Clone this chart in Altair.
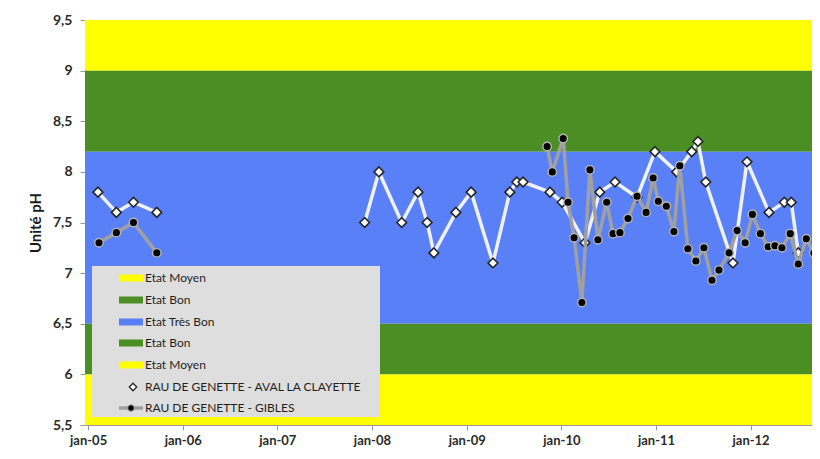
import altair as alt
import pandas as pd

# ---------------- data ----------------
band_lo = [9.0, 8.2, 6.5, 6.0, 5.5]
band_hi = [9.5, 9.0, 8.2, 6.5, 6.0]
band_color = ["#FFFF00", "#4A8E24", "#5A80F8", "#4A8E24", "#FFFF00"]

aval_dates = ["2005-02-08", "2005-04-20", "2005-06-25", "2005-09-23",
              "2007-12-04", "2008-01-28", "2008-04-25", "2008-06-27", "2008-08-01",
              "2008-08-27", "2008-11-20", "2009-01-18", "2009-04-12", "2009-06-16",
              "2009-07-13", "2009-08-06", "2009-11-18", "2010-01-04", "2010-04-02",
              "2010-05-29", "2010-07-27", "2010-10-20", "2010-12-28", "2011-03-22",
              "2011-05-19", "2011-06-12", "2011-07-12", "2011-10-25", "2011-12-18",
              "2012-03-12", "2012-05-10", "2012-06-06", "2012-07-03"]
aval_ph = [7.8, 7.6, 7.7, 7.6,
           7.5, 8.0, 7.5, 7.8, 7.5,
           7.2, 7.6, 7.8, 7.1, 7.8,
           7.9, 7.9, 7.8, 7.7, 7.3,
           7.8, 7.9, 7.75, 8.2, 8.0,
           8.2, 8.3, 7.9, 7.1, 8.1,
           7.6, 7.7, 7.7, 7.2]
aval_seg = [1] * 4 + [2] * 29

gibles_dates = ["2005-02-12", "2005-04-20", "2005-06-25", "2005-09-23",
                "2009-11-07", "2009-11-27", "2010-01-08", "2010-01-27", "2010-02-19",
                "2010-03-21", "2010-04-21", "2010-05-22", "2010-06-25", "2010-07-19",
                "2010-08-15", "2010-09-15", "2010-10-20", "2010-11-24", "2010-12-21",
                "2011-01-10", "2011-02-10", "2011-03-11", "2011-04-03", "2011-05-04",
                "2011-06-04", "2011-07-05", "2011-08-05", "2011-09-01", "2011-10-10",
                "2011-11-10", "2011-12-11", "2012-01-08", "2012-02-08", "2012-03-09",
                "2012-04-04", "2012-05-01", "2012-06-02", "2012-07-03", "2012-08-03",
                "2012-09-01"]
gibles_ph = [7.3, 7.4, 7.5, 7.2,
             8.25, 8.0, 8.33, 7.7, 7.35,
             6.71, 8.02, 7.33, 7.7, 7.39,
             7.4, 7.54, 7.76, 7.6, 7.94,
             7.71, 7.66, 7.41, 8.06, 7.24,
             7.12, 7.25, 6.93, 7.03, 7.2,
             7.42, 7.3, 7.58, 7.39, 7.26,
             7.27, 7.25, 7.39, 7.09, 7.34,
             7.2]
gibles_seg = [1] * 4 + [2] * 36

y_ticks = [5.5, 6.0, 6.5, 7.0, 7.5, 8.0, 8.5, 9.0, 9.5]
x_tick_years = [2005, 2006, 2007, 2008, 2009, 2010, 2011, 2012]

legend_labels = ["Etat Moyen", "Etat Bon", "Etat Très Bon", "Etat Bon", "Etat Moyen",
                 "RAU DE GENETTE - AVAL LA CLAYETTE", "RAU DE GENETTE - GIBLES"]
legend_swatch = ["#FFFF00", "#4A8E24", "#5A80F8", "#4A8E24", "#FFFF00"]

# ---------------- layout ----------------
W, H = 727, 405
FONT = "Lato"


def ms(s):
    return int(pd.Timestamp(s, tz="UTC").value // 10**6)


x_domain = [ms("2004-12-20"), ms("2012-08-25")]
x_values = [ms(f"{y}-01-01") for y in x_tick_years]

xscale = alt.Scale(type="utc", domain=x_domain)
yscale = alt.Scale(domain=[5.5, 9.5], nice=False, zero=False)

xaxis = alt.Axis(values=x_values, labelExpr="'jan-' + utcFormat(datum.value, '%y')",
                 labelFont=FONT, labelFontWeight="bold", labelFontSize=13,
                 labelColor="#2a2a2a", labelFlush=False, grid=False, title=None,
                 domainColor="#9a9a9a", tickColor="#9a9a9a", tickSize=5, labelPadding=4)
yaxis = alt.Axis(values=y_ticks, labelExpr="replace(toString(datum.value), '.', ',')",
                 labelFont=FONT, labelFontWeight="bold", labelFontSize=14,
                 labelColor="#2a2a2a", grid=False, title="Unité pH",
                 titleFont=FONT, titleFontSize=15, titleFontWeight="bold",
                 titleColor="#1a1a1a", titleX=-50, titleY=H / 2, titleBaseline="middle",
                 domainColor="#9a9a9a", tickColor="#9a9a9a", tickSize=5, labelPadding=8)

bands_df = pd.DataFrame({"lo": band_lo, "hi": band_hi, "c": band_color})
bands = alt.Chart(bands_df).mark_rect().encode(
    x=alt.value(0), x2=alt.value(W),
    y=alt.Y("lo:Q", scale=yscale, axis=yaxis),
    y2="hi:Q",
    color=alt.Color("c:N", scale=None),
)

aval_df = pd.DataFrame({"d": aval_dates, "ph": aval_ph, "seg": aval_seg})
gib_df = pd.DataFrame({"d": gibles_dates, "ph": gibles_ph, "seg": gibles_seg})

X = alt.X("d:T", scale=xscale, axis=xaxis)
Y = alt.Y("ph:Q", scale=yscale)

aval_line = alt.Chart(aval_df).mark_line(color="#EEF1FA", strokeWidth=3.5, clip=False).encode(
    x=X, y=Y, detail="seg:N")
aval_pts = alt.Chart(aval_df).mark_point(shape="diamond", filled=True, fill="#FFFFFF",
                                         stroke="#262626", strokeWidth=1.6, size=95,
                                         opacity=1).encode(x=X, y=Y)
gib_line = alt.Chart(gib_df).mark_line(color="#A0A0A0", strokeWidth=3.5, clip=False).encode(
    x=X, y=Y, detail="seg:N")
gib_pts = alt.Chart(gib_df).mark_circle(size=72, fill="#000000", stroke="#B4B4B4",
                                       strokeWidth=1.4, opacity=1).encode(x=X, y=Y)

# ---------------- legend ----------------
LX0, LX1, LY0, LY1 = 7, 295, 246, 397
row_y = [258, 280, 302, 323, 345, 367, 388]
one = pd.DataFrame({"k": [0]})
leg_layers = [
    alt.Chart(one).mark_rect(color="#DEDEDE").encode(
        x=alt.value(LX0), x2=alt.value(LX1), y=alt.value(LY0), y2=alt.value(LY1))
]
for i, col in enumerate(legend_swatch):
    leg_layers.append(alt.Chart(one).mark_rect(color=col).encode(
        x=alt.value(34), x2=alt.value(58), y=alt.value(row_y[i] - 3.5), y2=alt.value(row_y[i] + 3.5)))
leg_layers.append(alt.Chart(one).mark_point(shape="diamond", filled=True, fill="#FFFFFF",
                                            stroke="#262626", strokeWidth=1.3, size=55,
                                            opacity=1).encode(
    x=alt.value(48), y=alt.value(row_y[5])))
leg_layers.append(alt.Chart(one).mark_rule(color="#A0A0A0", strokeWidth=3.5).encode(
    x=alt.value(34), x2=alt.value(58), y=alt.value(row_y[6])))
leg_layers.append(alt.Chart(one).mark_circle(size=45, fill="#000000", stroke="#B0B0B0",
                                             strokeWidth=1, opacity=1).encode(
    x=alt.value(46), y=alt.value(row_y[6])))
for i, lab in enumerate(legend_labels):
    leg_layers.append(alt.Chart(pd.DataFrame({"t": [lab]})).mark_text(
        align="left", baseline="middle", font=FONT, fontSize=12, color="#1e1e1e").encode(
        x=alt.value(60), y=alt.value(row_y[i]), text="t:N"))

chart = alt.layer(bands, aval_line, aval_pts, gib_line, gib_pts, *leg_layers).properties(
    width=W, height=H,
    autosize=alt.AutoSizeParams(type="none"),
    padding={"left": 77, "top": 12, "right": 0, "bottom": 26},
).configure_view(stroke=None).configure(background="#FFFFFF")

chart.save("out.html", embed_options={"renderer": "svg", "actions": False})
